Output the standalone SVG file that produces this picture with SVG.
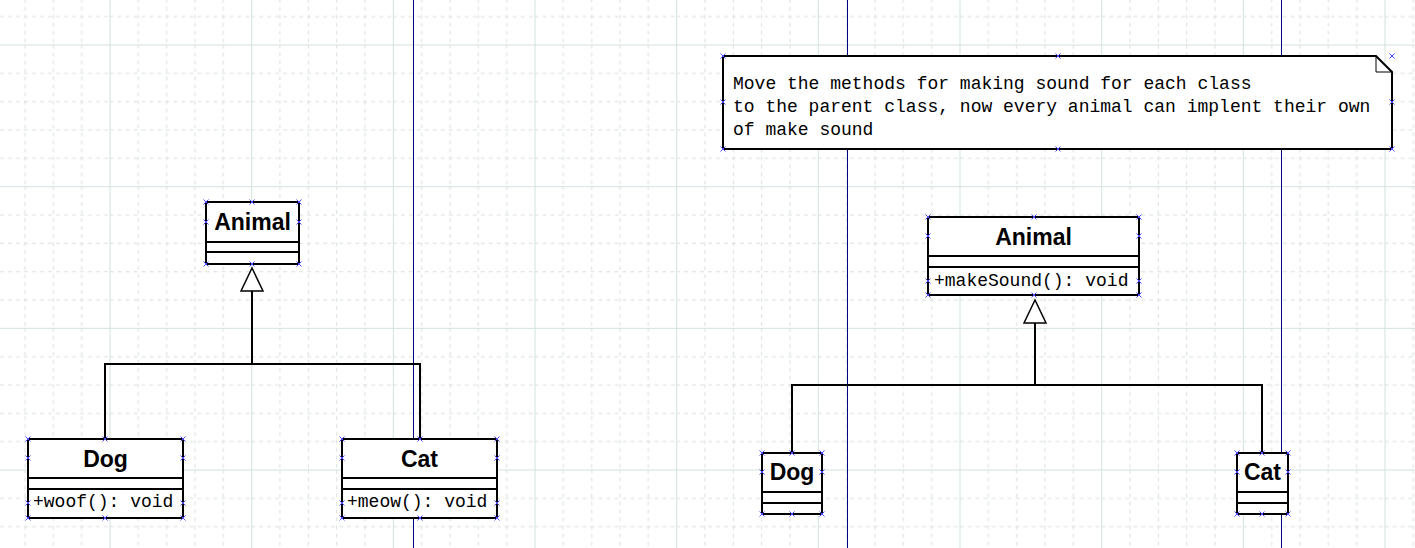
<svg xmlns="http://www.w3.org/2000/svg" width="1415" height="548" viewBox="0 0 1415 548">
<style>
.box{fill:#fff;stroke:#000;stroke-width:2}
.sep{stroke:#000;stroke-width:2}
.name{font-family:"Liberation Sans",Arial,sans-serif;font-weight:bold;font-size:23px;text-anchor:middle;fill:#000}
.mono{font-family:"Liberation Mono","Courier New",monospace;font-size:18px;fill:#000}
.conn{fill:none;stroke:#000;stroke-width:2}
.tri{fill:#fff;stroke:#000;stroke-width:1.5}
.gs{stroke:#d3e2de;stroke-width:1}
.gd{stroke:#d8e0de;stroke-width:1;stroke-dasharray:4 4}
.vl{stroke:#000080;stroke-width:1}
.hx{stroke:#4a4aff;stroke-width:1;fill:none}
</style>
<defs>
<pattern id="grid" patternUnits="userSpaceOnUse" x="109.5" y="44.5" width="141.667" height="141.667">
<line class="gd" x1="28.83" y1="0" x2="28.83" y2="141.667"/>
<line class="gd" x1="57.17" y1="0" x2="57.17" y2="141.667"/>
<line class="gd" x1="85.5" y1="0" x2="85.5" y2="141.667"/>
<line class="gd" x1="113.83" y1="0" x2="113.83" y2="141.667"/>
<line class="gd" y1="28.83" x1="0" y2="28.83" x2="141.667"/>
<line class="gd" y1="57.17" x1="0" y2="57.17" x2="141.667"/>
<line class="gd" y1="85.5" x1="0" y2="85.5" x2="141.667"/>
<line class="gd" y1="113.83" x1="0" y2="113.83" x2="141.667"/>
<line class="gs" x1="0.5" y1="0" x2="0.5" y2="141.667"/>
<line class="gs" y1="0.5" x1="0" y2="0.5" x2="141.667"/>
</pattern>
<path id="hx" class="hx" d="M-2.5,-2.5 L2.5,2.5 M-2.5,2.5 L2.5,-2.5"/>
</defs>
<rect x="0" y="0" width="1415" height="548" fill="#fff"/>
<rect x="0" y="0" width="1415" height="548" fill="url(#grid)"/>
<g id="guides">
<line class="vl" x1="413.5" y1="0" x2="413.5" y2="548"/>
<line class="vl" x1="847.5" y1="0" x2="847.5" y2="548"/>
<line class="vl" x1="1281.5" y1="0" x2="1281.5" y2="548"/>
</g>
<g id="connectors">
<path class="conn" d="M252,291 V364 M105,439 V364 H420 V439"/>
<polygon class="tri" points="252,268 241,291 263,291"/>
<path class="conn" d="M1035,323 V385 M792,453 V385 H1262 V453"/>
<polygon class="tri" points="1035,300 1024,323 1046,323"/>
</g>
<g id="animal1">
<rect class="box" x="206" y="202" width="93" height="62"/>
<line class="sep" x1="206" y1="242" x2="299" y2="242"/>
<line class="sep" x1="206" y1="252" x2="299" y2="252"/>
<text class="name" x="252.5" y="230">Animal</text>
</g>
<g id="dog1">
<rect class="box" x="28" y="439" width="155" height="79"/>
<line class="sep" x1="28" y1="478" x2="183" y2="478"/>
<line class="sep" x1="28" y1="489" x2="183" y2="489"/>
<text class="name" x="105.5" y="467">Dog</text>
<text class="mono" x="33" y="507">+woof(): void</text>
</g>
<g id="cat1">
<rect class="box" x="342" y="439" width="155" height="79"/>
<line class="sep" x1="342" y1="478" x2="497" y2="478"/>
<line class="sep" x1="342" y1="489" x2="497" y2="489"/>
<text class="name" x="419.5" y="467">Cat</text>
<text class="mono" x="347" y="507">+meow(): void</text>
</g>
<g id="note">
<path class="box" d="M723,56 H1376 L1392,72 V149 H723 Z"/>
<path fill="none" stroke="#000" stroke-width="1" d="M1376,56 V72 H1392"/>
<text class="mono" x="733" y="89">Move the methods for making sound for each class</text>
<text class="mono" x="733" y="112">to the parent class, now every animal can implent their own</text>
<text class="mono" x="733" y="135">of make sound</text>
</g>
<g id="animal2">
<rect class="box" x="928" y="217" width="211" height="78"/>
<line class="sep" x1="928" y1="256" x2="1139" y2="256"/>
<line class="sep" x1="928" y1="267" x2="1139" y2="267"/>
<text class="name" x="1033.5" y="245">Animal</text>
<text class="mono" x="934" y="286">+makeSound(): void</text>
</g>
<g id="dog2">
<rect class="box" x="762" y="453" width="60" height="61"/>
<line class="sep" x1="762" y1="492" x2="822" y2="492"/>
<line class="sep" x1="762" y1="503" x2="822" y2="503"/>
<text class="name" x="792" y="480">Dog</text>
</g>
<g id="cat2">
<rect class="box" x="1237" y="453" width="51" height="61"/>
<line class="sep" x1="1237" y1="492" x2="1288" y2="492"/>
<line class="sep" x1="1237" y1="503" x2="1288" y2="503"/>
<text class="name" x="1262.5" y="480">Cat</text>
</g>
<g id="handles">
<use href="#hx" x="206" y="202"/><use href="#hx" x="252" y="202"/><use href="#hx" x="299" y="202"/>
<use href="#hx" x="206" y="222"/><use href="#hx" x="299" y="222"/>
<use href="#hx" x="206" y="264"/><use href="#hx" x="252" y="264"/><use href="#hx" x="299" y="264"/>
<use href="#hx" x="28" y="439"/><use href="#hx" x="105" y="439"/><use href="#hx" x="183" y="439"/>
<use href="#hx" x="28" y="458"/><use href="#hx" x="183" y="458"/>
<use href="#hx" x="28" y="503"/><use href="#hx" x="183" y="503"/>
<use href="#hx" x="28" y="518"/><use href="#hx" x="105" y="518"/><use href="#hx" x="183" y="518"/>
<use href="#hx" x="342" y="439"/><use href="#hx" x="420" y="439"/><use href="#hx" x="497" y="439"/>
<use href="#hx" x="342" y="458"/><use href="#hx" x="497" y="458"/>
<use href="#hx" x="342" y="503"/><use href="#hx" x="497" y="503"/>
<use href="#hx" x="342" y="518"/><use href="#hx" x="420" y="518"/><use href="#hx" x="497" y="518"/>
<use href="#hx" x="928" y="217"/><use href="#hx" x="1034" y="217"/><use href="#hx" x="1139" y="217"/>
<use href="#hx" x="928" y="236"/><use href="#hx" x="1139" y="236"/>
<use href="#hx" x="928" y="281"/><use href="#hx" x="1139" y="281"/>
<use href="#hx" x="928" y="295"/><use href="#hx" x="1034" y="295"/><use href="#hx" x="1139" y="295"/>
<use href="#hx" x="762" y="453"/><use href="#hx" x="792" y="453"/><use href="#hx" x="822" y="453"/>
<use href="#hx" x="762" y="472"/><use href="#hx" x="822" y="472"/>
<use href="#hx" x="762" y="514"/><use href="#hx" x="792" y="514"/><use href="#hx" x="822" y="514"/>
<use href="#hx" x="1237" y="453"/><use href="#hx" x="1262" y="453"/><use href="#hx" x="1288" y="453"/>
<use href="#hx" x="1237" y="472"/><use href="#hx" x="1288" y="472"/>
<use href="#hx" x="1237" y="514"/><use href="#hx" x="1262" y="514"/><use href="#hx" x="1288" y="514"/>
<use href="#hx" x="723" y="56"/><use href="#hx" x="1058" y="56"/><use href="#hx" x="1392" y="56"/>
<use href="#hx" x="723" y="102"/><use href="#hx" x="1392" y="102"/>
<use href="#hx" x="723" y="149"/><use href="#hx" x="1058" y="149"/><use href="#hx" x="1392" y="149"/>
</g>
</svg>
